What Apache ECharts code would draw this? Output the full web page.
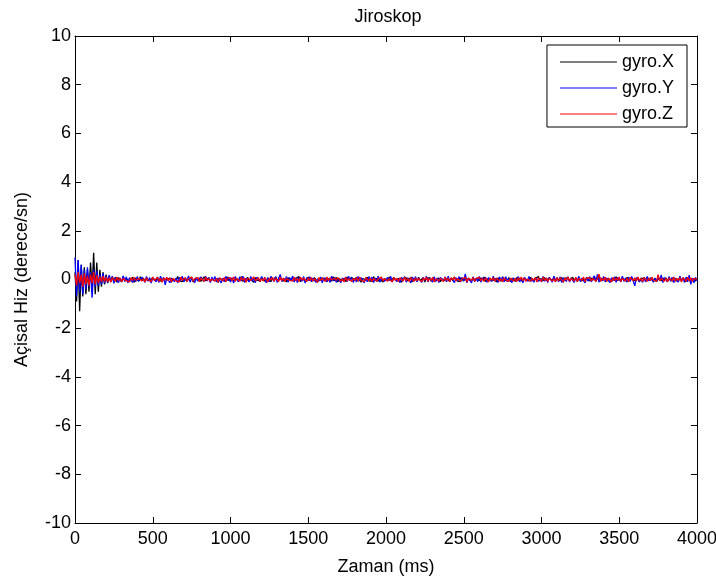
<!DOCTYPE html>
<html><head><meta charset="utf-8">
<script src="https://cdn.jsdelivr.net/npm/echarts@6/dist/echarts.min.js"></script>
<style>html,body{margin:0;padding:0;background:#fff}#c{width:716px;height:579px}</style>
</head><body><div id="c"></div>
<script>
const sampleStepMs = 10;
const seriesNames = ['gyro.X', 'gyro.Y', 'gyro.Z'];
const xTicks = [0, 500, 1000, 1500, 2000, 2500, 3000, 3500, 4000];
const yTicks = [-10, -8, -6, -4, -2, 0, 2, 4, 6, 8, 10];

const gyroX = [
0.30,-0.90,0.80,-1.30,0.60,-0.70,0.50,-0.60,0.40,-0.50,0.70,-0.40,1.10,-0.60,0.70,-0.50,0.40,-0.30,0.30,-0.20,
0.20,-0.15,0.15,-0.10,0.12,-0.08,0.10,-0.12,0.08,0.05,-0.10,0.12,-0.06,0.04,0.10,-0.08,-0.03,0.09,-0.11,0.06,
0.03,-0.07,0.11,-0.04,0.06,-0.10,0.02,0.08,-0.05,-0.09,0.07,0.01,-0.06,0.10,-0.03,0.05,-0.08,0.04,0.09,-0.02,
-0.07,0.06,-0.11,0.03,0.08,-0.04,0.12,-0.06,0.00,-0.09,0.05,0.10,-0.07,0.02,-0.05,0.09,-0.10,0.04,0.07,-0.03,
0.06,-0.08,0.02,0.11,-0.05,-0.02,0.07,-0.09,0.04,0.08,-0.06,0.03,-0.12,0.05,0.09,-0.04,0.01,-0.07,0.10,-0.05,
0.04,0.08,-0.06,-0.10,0.03,0.07,-0.02,0.12,-0.08,0.05,-0.04,0.09,-0.07,0.02,0.06,-0.11,0.08,-0.03,0.05,-0.06,
0.10,-0.04,0.03,-0.08,0.07,0.02,-0.09,0.06,-0.05,0.11,-0.02,-0.07,0.04,0.08,-0.06,0.03,-0.10,0.07,0.01,-0.04,
0.09,-0.07,0.05,-0.03,0.12,-0.09,0.02,0.06,-0.05,-0.08,0.10,-0.02,0.04,-0.06,0.08,0.03,-0.11,0.05,-0.04,0.07,
-0.03,0.06,-0.09,0.04,0.02,-0.06,0.11,-0.05,0.08,-0.10,0.03,0.07,-0.04,0.05,-0.08,0.10,-0.02,-0.06,0.09,-0.05,
0.02,0.08,-0.07,0.05,-0.11,0.04,0.06,-0.03,0.09,-0.06,0.01,-0.08,0.12,-0.04,0.05,-0.07,0.03,0.08,-0.10,0.04,
0.06,-0.05,0.10,-0.02,-0.08,0.07,0.03,-0.06,0.04,0.09,-0.11,0.05,-0.03,0.07,-0.06,0.02,0.10,-0.09,0.04,-0.02,
-0.06,0.09,-0.04,0.03,0.07,-0.10,0.05,-0.02,0.08,-0.07,0.04,0.11,-0.05,-0.03,0.06,-0.09,0.02,0.07,-0.04,0.05,
0.03,-0.08,0.06,-0.05,0.10,-0.03,0.04,-0.09,0.07,0.02,-0.06,0.08,-0.11,0.05,0.03,-0.04,0.09,-0.07,0.01,0.06,
-0.05,0.07,-0.02,0.10,-0.08,0.04,-0.06,0.03,0.09,-0.04,0.05,-0.10,0.06,0.02,-0.07,0.11,-0.03,0.04,-0.06,0.08,
-0.09,0.05,0.02,-0.07,0.08,-0.04,0.06,0.01,-0.10,0.07,-0.03,0.05,-0.06,0.09,0.03,-0.08,0.04,-0.02,0.12,-0.05,
0.04,-0.06,0.08,-0.03,-0.09,0.06,0.02,-0.05,0.10,-0.07,0.03,0.05,-0.04,0.08,-0.11,0.06,-0.02,0.07,-0.05,0.03,
0.09,-0.04,0.05,-0.08,0.02,0.07,-0.06,0.04,-0.10,0.08,0.01,-0.05,0.06,-0.03,0.10,-0.07,0.04,0.15,-0.06,0.03,
-0.04,0.08,-0.07,0.05,0.02,-0.09,0.06,-0.03,0.11,-0.05,0.04,-0.08,0.07,0.03,-0.06,0.09,-0.02,-0.07,0.05,0.08,
-0.05,0.03,0.07,-0.10,0.06,-0.02,0.04,-0.07,0.09,-0.04,0.02,0.08,-0.06,0.05,-0.09,0.03,0.10,-0.05,0.06,-0.03,
0.07,-0.08,0.04,0.02,-0.06,0.09,-0.05,0.03,-0.07,0.11,-0.04,0.06,-0.02,-0.08,0.05,0.07,-0.10,0.04,0.02,-0.06,
0.03];

const gyroY = [
0.90,-0.70,0.80,-0.50,0.60,-0.60,0.40,-0.40,0.50,-0.30,0.30,-0.75,0.40,-0.30,0.35,-0.25,0.20,-0.20,0.25,-0.15,
0.15,-0.12,0.18,-0.10,0.14,-0.16,0.08,0.12,-0.13,0.06,-0.10,0.15,-0.08,0.11,-0.14,0.07,0.10,-0.12,0.05,-0.09,
0.12,-0.06,-0.14,0.10,0.04,-0.11,0.13,-0.07,0.08,-0.15,0.06,0.11,-0.09,0.03,-0.12,0.14,-0.05,0.09,-0.22,0.07,
0.10,-0.13,0.05,0.12,-0.08,0.06,-0.14,0.09,-0.04,0.13,-0.10,0.07,-0.06,0.15,-0.11,0.04,0.10,-0.13,0.08,-0.07,
-0.12,0.11,0.03,-0.09,0.14,-0.06,0.08,-0.13,0.10,-0.05,0.12,-0.10,0.06,0.09,-0.14,0.05,-0.08,0.13,-0.04,0.10,
-0.11,0.07,-0.15,0.12,0.02,-0.09,0.11,-0.06,0.14,-0.12,0.05,0.08,-0.10,0.13,-0.07,0.04,-0.13,0.10,0.06,-0.08,
0.12,-0.05,0.09,-0.14,0.07,-0.10,0.13,0.03,-0.08,0.11,-0.12,0.06,0.20,-0.09,0.05,-0.06,0.12,-0.11,0.08,-0.04,
0.14,-0.10,0.06,-0.13,0.09,0.04,-0.07,0.12,-0.15,0.08,-0.05,0.11,-0.09,0.06,0.13,-0.12,0.03,-0.06,0.10,-0.14,
0.07,0.11,-0.08,0.05,-0.12,0.14,-0.06,0.09,-0.11,0.04,0.12,-0.13,0.06,-0.07,0.10,-0.09,0.13,-0.05,0.08,-0.12,
0.05,-0.10,0.13,-0.06,0.08,0.11,-0.14,0.07,-0.09,0.12,-0.04,0.10,-0.13,0.06,-0.08,0.14,-0.11,0.05,0.09,-0.07,
-0.12,0.08,-0.05,0.13,-0.10,0.06,0.11,-0.08,0.04,-0.13,0.09,-0.06,0.12,-0.11,0.07,0.05,-0.14,0.10,-0.07,0.12,
-0.09,0.06,0.10,-0.12,0.08,-0.05,0.13,-0.10,0.07,0.04,-0.11,0.12,-0.08,0.06,-0.13,0.09,0.05,-0.07,0.11,-0.10,
0.14,-0.08,0.06,0.10,-0.13,0.07,-0.05,0.12,-0.10,0.08,-0.06,0.23,-0.12,0.05,0.09,-0.14,0.11,-0.07,0.06,-0.09,
0.13,-0.11,0.07,-0.04,0.10,-0.12,0.08,0.05,-0.09,0.14,-0.07,0.06,-0.13,0.11,-0.05,0.09,-0.10,0.12,-0.08,0.04,
0.11,-0.13,0.06,0.09,-0.07,0.12,-0.10,0.05,-0.14,0.08,0.10,-0.06,0.13,-0.09,0.04,-0.11,0.07,0.12,-0.08,0.05,
-0.10,0.13,-0.07,0.06,-0.12,0.09,0.04,-0.11,0.14,-0.06,0.08,-0.09,0.11,-0.13,0.07,0.05,-0.08,0.12,-0.10,0.06,
0.09,-0.12,0.07,-0.05,0.13,-0.09,0.06,0.10,-0.14,0.08,-0.07,0.12,-0.10,0.05,0.15,-0.08,0.21,-0.11,0.07,-0.06,
0.12,-0.10,0.06,0.09,-0.13,0.07,-0.05,0.11,-0.12,0.08,0.04,-0.09,0.14,-0.07,0.06,-0.11,0.10,-0.08,0.13,-0.06,
-0.26,0.08,0.11,-0.07,0.05,-0.12,0.09,-0.10,0.13,-0.06,0.07,0.10,-0.11,0.06,-0.08,0.12,-0.05,0.19,-0.13,0.08,
0.06,-0.10,0.12,-0.07,0.09,-0.13,0.05,0.08,-0.11,0.14,-0.06,0.07,-0.12,0.10,-0.09,0.18,-0.20,0.06,-0.14,0.09,
-0.05];

const gyroZ = [
0.20,-0.25,0.30,-0.15,0.20,-0.30,0.25,-0.20,0.15,-0.25,0.20,-0.15,0.30,-0.20,0.18,-0.15,0.12,-0.10,0.14,-0.08,
0.10,-0.09,0.07,-0.11,0.08,0.03,-0.07,0.10,-0.05,0.06,-0.09,0.04,0.08,-0.06,0.02,-0.10,0.07,-0.04,0.09,-0.03,
-0.08,0.05,0.09,-0.06,0.03,-0.10,0.07,-0.02,0.06,-0.08,0.10,-0.04,0.02,0.08,-0.07,0.05,-0.11,0.06,-0.03,0.09,
-0.05,0.07,-0.09,0.04,0.08,-0.06,0.02,-0.10,0.09,-0.03,0.05,0.07,-0.08,0.03,-0.05,0.10,-0.07,0.04,-0.02,0.08,
-0.09,0.06,0.03,-0.07,0.10,-0.04,0.05,-0.08,0.02,0.09,-0.06,0.04,-0.10,0.07,0.03,-0.05,0.08,-0.09,0.05,-0.02,
0.07,-0.05,0.10,-0.08,0.04,0.02,-0.07,0.09,-0.04,0.06,-0.11,0.05,0.08,-0.03,-0.06,0.10,-0.05,0.03,0.07,-0.09,
0.04,-0.06,0.08,0.02,-0.10,0.06,-0.03,0.09,-0.07,0.05,0.03,-0.08,0.10,-0.05,0.06,-0.09,0.04,0.07,-0.04,0.02,
-0.07,0.09,-0.05,0.04,-0.08,0.10,-0.03,0.06,0.02,-0.09,0.07,-0.05,0.08,-0.06,0.03,0.05,-0.10,0.08,-0.04,0.06,
0.03,-0.08,0.10,-0.05,0.07,-0.02,-0.09,0.06,-0.04,0.08,0.05,-0.07,0.03,-0.10,0.09,-0.06,0.04,0.07,-0.08,0.05,
-0.04,0.07,-0.06,0.10,-0.03,0.05,-0.09,0.08,0.02,-0.05,0.06,-0.08,0.04,0.09,-0.07,0.03,-0.05,0.10,-0.06,0.04,
0.08,-0.07,0.03,0.06,-0.10,0.09,-0.04,0.05,-0.08,0.07,0.02,-0.06,0.10,-0.05,0.04,-0.09,0.08,0.03,-0.07,0.06,
-0.05,0.04,0.08,-0.09,0.06,-0.03,0.10,-0.07,0.05,-0.04,0.09,-0.10,0.03,0.07,-0.06,0.05,0.02,-0.08,0.09,-0.04,
0.06,-0.09,0.07,-0.02,0.10,-0.06,0.04,0.08,-0.07,0.03,-0.05,0.09,-0.10,0.06,0.02,-0.04,0.08,-0.07,0.05,-0.03,
0.09,-0.05,0.04,-0.08,0.07,0.03,-0.10,0.06,-0.04,0.08,-0.07,0.05,0.10,-0.06,0.03,-0.09,0.07,-0.02,0.06,-0.08,
0.05,0.08,-0.06,0.04,-0.09,0.07,-0.03,0.10,-0.05,0.06,-0.08,0.02,0.09,-0.07,0.05,-0.04,0.08,-0.10,0.06,0.03,
-0.07,0.10,-0.04,0.06,-0.08,0.05,0.09,-0.06,0.03,-0.10,0.08,-0.05,0.07,0.04,-0.09,0.06,-0.03,0.10,-0.07,0.05,
0.03,-0.06,0.09,-0.08,0.05,0.07,-0.04,0.10,-0.09,0.06,-0.02,0.08,-0.06,0.04,0.12,-0.07,0.05,0.22,-0.08,0.06,
-0.04,0.09,-0.07,0.05,0.03,-0.10,0.08,-0.05,0.06,-0.03,0.10,-0.08,0.04,0.07,-0.06,0.05,-0.09,0.08,0.02,-0.05,
0.07,-0.06,0.10,-0.04,0.05,-0.09,0.08,0.03,-0.07,0.06,-0.05,0.09,-0.03,0.04,-0.08,0.20,-0.06,0.05,0.08,-0.07,
0.04,-0.09,0.06,0.02,-0.05,0.10,-0.07,0.05,-0.04,0.08,-0.10,0.06,0.03,-0.06,0.09,-0.05,0.07,-0.08,0.04,-0.03,
0.02];

const colors = ['#000000', '#0000ff', '#ff0000'];
const font = 'Liberation Sans, Arial, sans-serif';

function pairs(vals) { return vals.map((v, i) => [i * sampleStepMs, v]); }

const chart = echarts.init(document.getElementById('c'), null, {renderer: 'canvas'});
const axisCommon = {
  axisLine: {show: true, onZero: false, lineStyle: {color: '#000', width: 1}},
  axisTick: {show: true, inside: true, length: 6, lineStyle: {color: '#000'}},
  splitLine: {show: false}
};
chart.setOption({
  animation: false,
  backgroundColor: '#fff',
  title: {text: 'Jiroskop', left: 383, top: 3, textAlign: 'center',
    textStyle: {fontFamily: font, fontSize: 18, fontWeight: 'normal', color: '#000'}},
  grid: {left: 75, right: 19, top: 36, bottom: 56, containLabel: false, outerBoundsMode: 'none'},
  legend: {
    orient: 'vertical', right: 29, top: 45,
    data: seriesNames,
    backgroundColor: '#fff', borderColor: '#000', borderWidth: 1, borderRadius: 0,
    padding: [8, 13, 4, 13], itemGap: 8, itemWidth: 57, itemHeight: 14,
    textStyle: {fontFamily: font, fontSize: 18, color: '#000'},
    icon: 'path://M0,7L57,7L57,8L0,8Z'
  },
  xAxis: [
    Object.assign({type: 'value', min: 0, max: 4000, interval: 500, position: 'bottom',
      name: 'Zaman (ms)', nameLocation: 'middle', nameGap: 35,
      nameTextStyle: {fontFamily: font, fontSize: 18, color: '#000'},
      axisLabel: {fontFamily: font, fontSize: 18, color: '#000', margin: 7,
        formatter: v => xTicks.includes(v) ? String(v) : ''}}, axisCommon),
    Object.assign({type: 'value', min: 0, max: 4000, interval: 500, position: 'top',
      axisLabel: {show: false}}, axisCommon)
  ],
  yAxis: [
    Object.assign({type: 'value', min: -10, max: 10, interval: 2, position: 'left',
      name: 'Açisal Hiz (derece/sn)', nameLocation: 'middle', nameGap: 44,
      nameTextStyle: {fontFamily: font, fontSize: 18, color: '#000'},
      axisLabel: {fontFamily: font, fontSize: 18, color: '#000', margin: 4,
        formatter: v => yTicks.includes(v) ? String(v) : ''}}, axisCommon),
    Object.assign({type: 'value', min: -10, max: 10, interval: 2, position: 'right',
      axisLabel: {show: false}}, axisCommon)
  ],
  series: [gyroX, gyroY, gyroZ].map((vals, k) => ({
    name: seriesNames[k], type: 'line', data: pairs(vals),
    xAxisIndex: 0, yAxisIndex: 0,
    symbol: 'none', showSymbol: false, smooth: false,
    lineStyle: {color: colors[k], width: 1.3}, itemStyle: {color: colors[k]},
    emphasis: {disabled: true}, z: 2 + k
  }))
});
</script>
</body></html>
